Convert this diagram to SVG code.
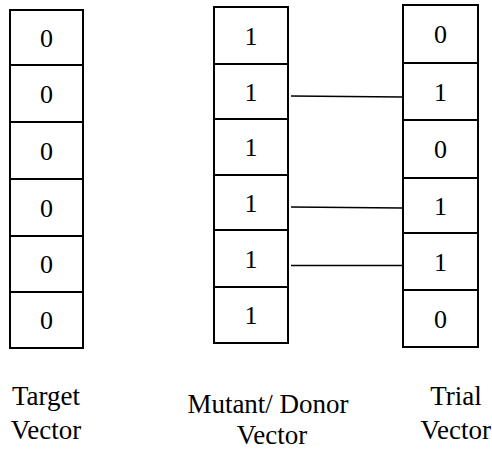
<svg xmlns="http://www.w3.org/2000/svg" width="492" height="451" viewBox="0 0 492 451">
<style>
.cell{fill:#fff;stroke:#000;stroke-width:2}
text{font-family:"Liberation Serif",Tinos,"Times New Roman","DejaVu Serif",serif;fill:#000;text-anchor:middle}
.d{font-size:26px}
.lbl{font-size:27px}
.conn{stroke:#000;stroke-width:1.5;fill:none}
</style>
<rect width="492" height="451" fill="#fff"/>
<g id="target">
<rect class="cell" x="10" y="10" width="73" height="55"/>
<rect class="cell" x="10" y="65" width="73" height="57"/>
<rect class="cell" x="10" y="122" width="73" height="57"/>
<rect class="cell" x="10" y="179" width="73" height="57"/>
<rect class="cell" x="10" y="236" width="73" height="56"/>
<rect class="cell" x="10" y="292" width="73" height="56"/>
<text class="d" x="46.5" y="47">0</text>
<text class="d" x="46.5" y="103">0</text>
<text class="d" x="46.5" y="160">0</text>
<text class="d" x="46.5" y="217">0</text>
<text class="d" x="46.5" y="273">0</text>
<text class="d" x="46.5" y="329">0</text>
</g>
<g id="mutant">
<rect class="cell" x="214" y="7" width="74" height="57"/>
<rect class="cell" x="214" y="64" width="74" height="55"/>
<rect class="cell" x="214" y="119" width="74" height="56"/>
<rect class="cell" x="214" y="175" width="74" height="55"/>
<rect class="cell" x="214" y="230" width="74" height="57"/>
<rect class="cell" x="214" y="287" width="74" height="56"/>
<text class="d" x="251" y="45">1</text>
<text class="d" x="251" y="101">1</text>
<text class="d" x="251" y="156">1</text>
<text class="d" x="251" y="212">1</text>
<text class="d" x="251" y="268">1</text>
<text class="d" x="251" y="324">1</text>
</g>
<g id="trial">
<rect class="cell" x="403" y="5" width="75" height="58"/>
<rect class="cell" x="403" y="63" width="75" height="57"/>
<rect class="cell" x="403" y="120" width="75" height="58"/>
<rect class="cell" x="403" y="178" width="75" height="55"/>
<rect class="cell" x="403" y="233" width="75" height="57"/>
<rect class="cell" x="403" y="290" width="75" height="57"/>
<text class="d" x="440.5" y="43">0</text>
<text class="d" x="440.5" y="101">1</text>
<text class="d" x="440.5" y="158">0</text>
<text class="d" x="440.5" y="215">1</text>
<text class="d" x="440.5" y="271">1</text>
<text class="d" x="440.5" y="328">0</text>
</g>
<g id="connectors">
<line class="conn" x1="291" y1="96" x2="402" y2="97"/>
<line class="conn" x1="291" y1="207" x2="402" y2="208"/>
<line class="conn" x1="291" y1="265.5" x2="402" y2="265.5"/>
</g>
<g id="labels">
<text class="lbl" x="46" y="405">Target</text>
<text class="lbl" x="46" y="439">Vector</text>
<text class="lbl" x="268" y="413">Mutant/ Donor</text>
<text class="lbl" x="272" y="444">Vector</text>
<text class="lbl" x="456" y="405">Trial</text>
<text class="lbl" x="491" y="439" style="text-anchor:end">Vector</text>
</g>
</svg>
